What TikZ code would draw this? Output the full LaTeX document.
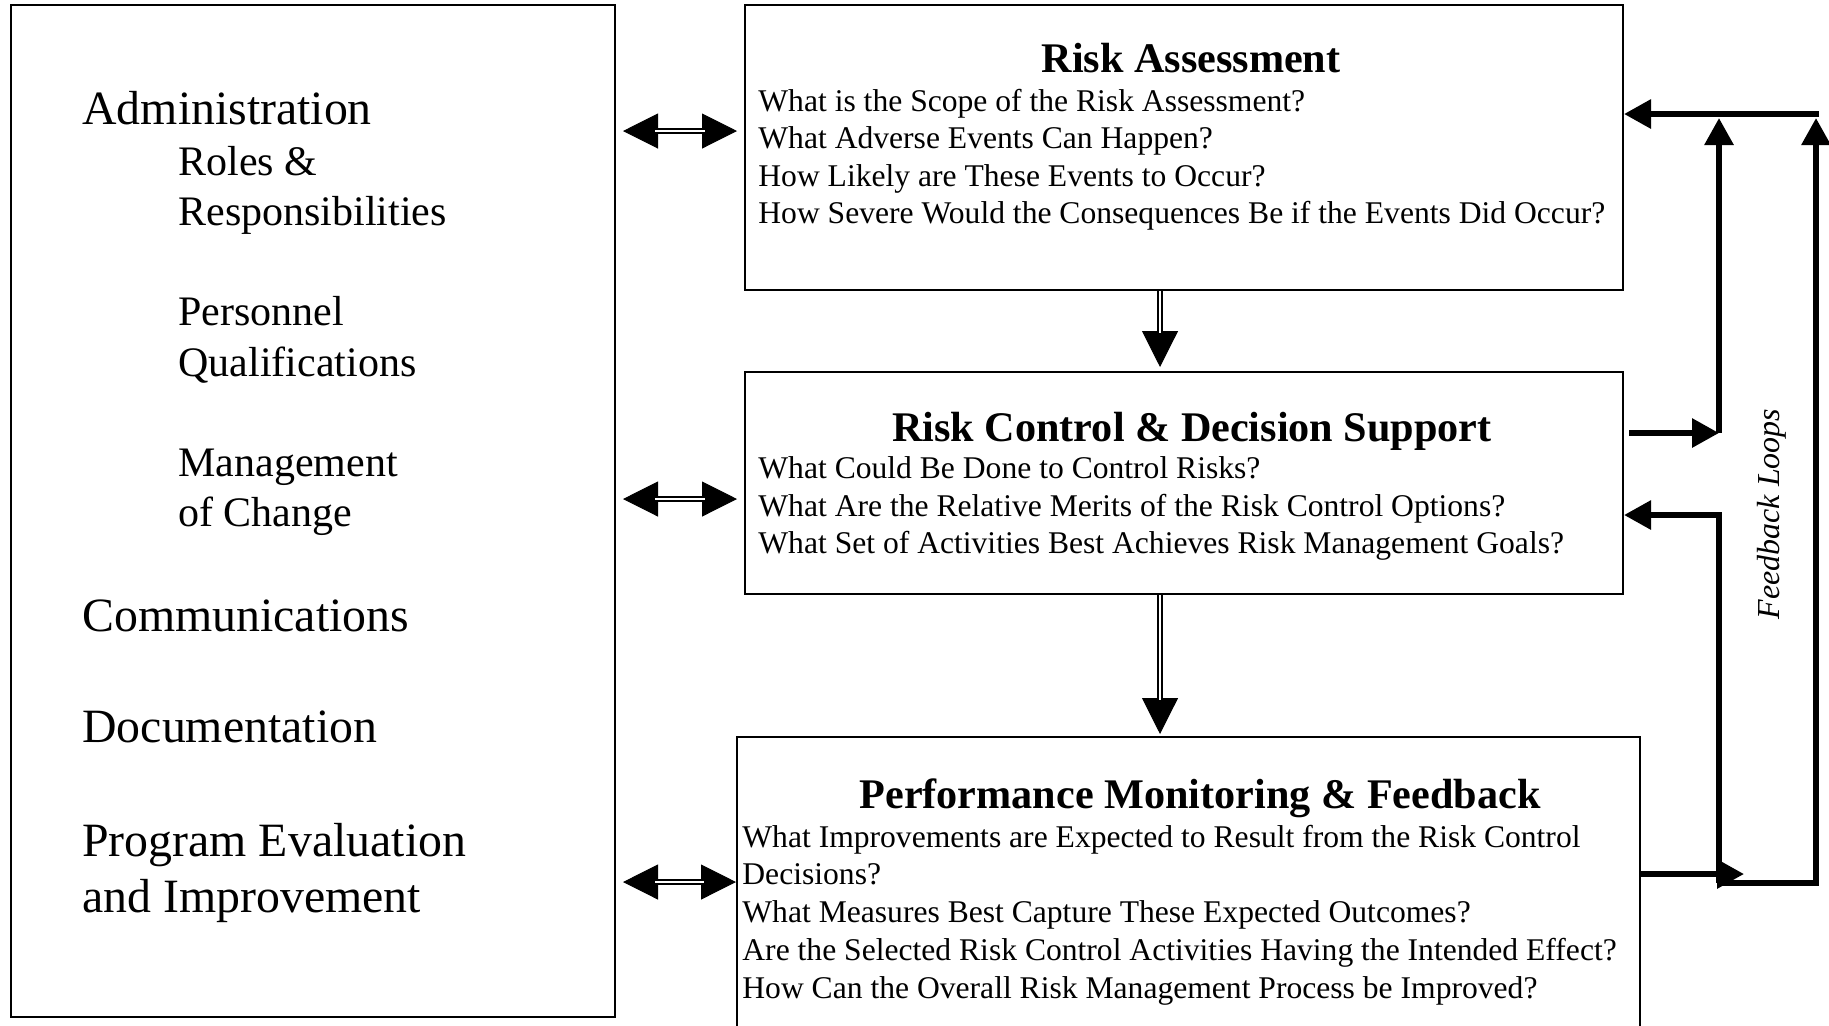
\documentclass[tikz,border=0pt]{standalone}
\usepackage{fontspec}
\setmainfont{Liberation Serif}
\usetikzlibrary{arrows.meta}
\begin{document}
\begin{tikzpicture}[x=0.5pt,y=-0.5pt,
  box/.style={draw, line width=1pt, inner sep=0pt, rectangle},
  hd/.style={font=\fontsize{21.1}{25}\selectfont\bfseries, anchor=base, inner sep=0pt},
  q/.style={font=\fontsize{15.8}{19}\selectfont, anchor=base west, inner sep=0pt},
  mainitem/.style={font=\fontsize{23.9}{28}\selectfont, anchor=base west, inner sep=0pt},
  subitem/.style={font=\fontsize{21}{25}\selectfont, anchor=base west, inner sep=0pt},
  bothtips/.style={line width=0.5pt, {Triangle[length=17.5pt,width=17.5pt]}-{Triangle[length=17.5pt,width=17.5pt]}},
  bothshaft/.style={double, line width=1.1pt, double distance=1.2pt, shorten <=16pt, shorten >=16pt},
  downtip/.style={line width=0.5pt, -{Triangle[length=18pt,width=18pt]}},
  downshaft/.style={double, line width=1.1pt, double distance=1.2pt, shorten >=17pt},
  fb/.style={line width=3pt, line join=miter, -{Triangle[length=13.5pt,width=14pt]}}
]
\useasboundingbox (0,0) rectangle (1829,1025);
\clip (0,0) rectangle (1829,1025);

% boxes
\node[box, minimum width=302pt, minimum height=506pt] (left) at (313,511) {};
\node[box, minimum width=439pt, minimum height=142.5pt] (ra) at (1184,147.5) {};
\node[box, minimum width=439pt, minimum height=111pt] (rc) at (1184,483) {};
\node[box, minimum width=451.5pt, minimum height=151.5pt] (pm) at (1188.5,888.5) {};

% program elements
\node[mainitem] (t1) at (82,124) {Administration};
\node[subitem] (t2) at (178,175) {Roles \&};
\node[subitem] (t3) at (178,225) {Responsibilities};
\node[subitem] (t4) at (178,325) {Personnel};
\node[subitem] (t5) at (178,376) {Qualifications};
\node[subitem] (t6) at (178,476) {Management};
\node[subitem] (t7) at (178,526) {of Change};
\node[mainitem] (t8) at (82,631) {Communications};
\node[mainitem] (t9) at (82,742) {Documentation};
\node[mainitem] (t10) at (82,856) {Program Evaluation};
\node[mainitem] (t11) at (82,912) {and Improvement};

% risk assessment
\node[hd] (rah) at (1191,72) {Risk Assessment};
\node[q] (ra1) at (758,111) {What is the Scope of the Risk Assessment?};
\node[q] (ra2) at (758,148) {What Adverse Events Can Happen?};
\node[q] (ra3) at (758,186) {How Likely are These Events to Occur?};
\node[q] (ra4) at (758,223) {How Severe Would the Consequences Be if the Events Did Occur?};

% risk control
\node[hd] (rch) at (1192,441) {Risk Control \& Decision Support};
\node[q] (rc1) at (758,478) {What Could Be Done to Control Risks?};
\node[q] (rc2) at (758,516) {What Are the Relative Merits of the Risk Control Options?};
\node[q] (rc3) at (758,553) {What Set of Activities Best Achieves Risk Management Goals?};

% performance monitoring
\node[hd] (pmh) at (1200,808) {Performance Monitoring \& Feedback};
\node[q] (pm1) at (742,847) {What Improvements are Expected to Result from the Risk Control};
\node[q] (pm2) at (742,884) {Decisions?};
\node[q] (pm3) at (742,922) {What Measures Best Capture These Expected Outcomes?};
\node[q] (pm4) at (742,960) {Are the Selected Risk Control Activities Having the Intended Effect?};
\node[q] (pm5) at (742,998) {How Can the Overall Risk Management Process be Improved?};

\node[font=\fontsize{16}{19}\selectfont\itshape, rotate=90, inner sep=0pt] (fbl) at (1772,514) {Feedback Loops};

% two-way links between the program elements and each stage
\coordinate (l1) at ([xshift=3.5pt]left.east |- 0,131);
\coordinate (r1) at ([xshift=-3.5pt]ra.west |- 0,131);
\coordinate (l2) at ([xshift=3.5pt]left.east |- 0,499);
\coordinate (r2) at ([xshift=-3.5pt]rc.west |- 0,499);
\coordinate (l3) at ([xshift=3.5pt]left.east |- 0,882);
\coordinate (r3) at (pm.west |- 0,882);
\foreach \a/\b in {l1/r1,l2/r2,l3/r3}{
  \draw[bothtips] (\a) -- (\b);
  \draw[bothshaft] (\a) -- (\b);
}

% stage flow
\coordinate (d1s) at (ra.south -| 1160,0);
\coordinate (d1e) at ([yshift=2pt]rc.north -| 1160,0);
\coordinate (d2s) at (rc.south -| 1160,0);
\coordinate (d2e) at ([yshift=1pt]pm.north -| 1160,0);
\draw[downtip] (d1s) -- (d1e);
\draw[downshaft] (d1s) -- (d1e);
\draw[downtip] (d2s) -- (d2e);
\draw[downshaft] (d2s) -- (d2e);

% feedback loops
\coordinate (rcout) at ([xshift=2.5pt]rc.east |- 0,433);
\coordinate (lv) at (1719,433);
\coordinate (lvtop) at (1719,118);
\coordinate (corner) at (1719,883);
\coordinate (rvtop) at (1816,118);
\coordinate (topr) at (1819,114);
\coordinate (rain) at (ra.east |- 0,114);
\coordinate (rcin) at (rc.east |- 0,515);
\coordinate (pmout) at (pm.east |- 0,874);
\coordinate (pmend) at (1744,874);

\draw[fb] (rcout) -- (lv);
\draw[fb] (lv) -- (lvtop);
\draw[fb] (topr) -- (rain);
\draw[fb] (corner) -| (rvtop);
\draw[fb] (corner) |- (rcin);
\draw[fb] (pmout) -- (pmend);
\end{tikzpicture}
\end{document}
